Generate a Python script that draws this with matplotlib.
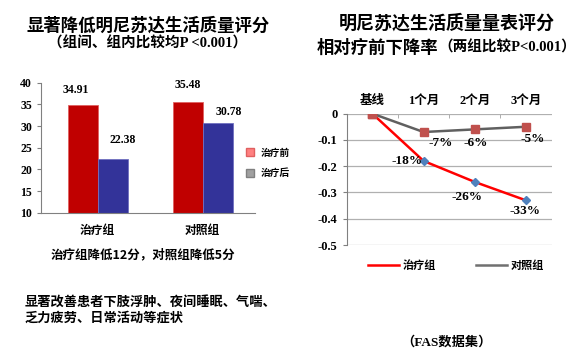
import matplotlib.pyplot as plt
from matplotlib.patches import Patch
from matplotlib.lines import Line2D

plt.rcParams['font.family'] = ['Liberation Serif', 'Noto Sans CJK SC', 'DejaVu Sans']
plt.rcParams['font.weight'] = 'bold'

# left chart data
groups = ["治疗组", "对照组"]
before = [34.91, 35.48]
after = [22.38, 30.78]

# right chart data
months = ["基线", "1个月", "2个月", "3个月"]
treat_rate = [0, -0.18, -0.26, -0.33]
ctrl_rate = [0, -0.07, -0.06, -0.05]
treat_labels = ["", "-18%", "-26%", "-33%"]
ctrl_labels = ["", "-7%", "-6%", "-5%"]

cjk = ['Noto Sans CJK SC', 'DejaVu Sans']
mixed = ['Liberation Serif', 'Noto Sans CJK SC']

fig = plt.figure(figsize=(5.82, 3.6), dpi=100)

# ---- left bar chart
ax1 = fig.add_axes([0.0704, 0.409, 0.368, 0.361])
w = 0.286
x = range(len(groups))
ax1.bar([i - w / 2 for i in x], before, w, color="#C00000", edgecolor="#E06060", linewidth=0.6)
ax1.bar([i + w / 2 for i in x], after, w, color="#333399", edgecolor="#7070C0", linewidth=0.6)
before_off = [(-4.7, 10.8), (0, 12.2)]
after_off = [(7.5, 13.7), (8, 8)]
for i in x:
    ax1.annotate(f"{before[i]:.2f}", (i - w / 2, before[i]), xytext=before_off[i], textcoords="offset points",
                 ha="center", va="center", fontsize=8.5, family=mixed)
    ax1.annotate(f"{after[i]:.2f}", (i + w / 2, after[i]), xytext=after_off[i], textcoords="offset points",
                 ha="center", va="center", fontsize=8.5, family=mixed)
ax1.set_ylim(10, 40)
ax1.set_xlim(-0.54, 1.50)
ax1.set_yticks(range(10, 41, 5))
ax1.set_xticks(list(x))
ax1.set_xticklabels(groups, family=cjk, fontsize=8.5)
ax1.tick_params(axis="x", length=0, pad=8)
ax1.tick_params(axis="y", length=3, labelsize=8.5, color="#808080")
for lab in ax1.get_yticklabels():
    lab.set_family(mixed)
ax1.spines[["top", "right"]].set_visible(False)
ax1.spines["left"].set_color("#808080")
ax1.spines["bottom"].set_color("#808080")

handles = [Patch(facecolor="#FF8080", edgecolor="#E06060"), Patch(facecolor="#A0A0A0", edgecolor="#808080")]
fig.legend(handles, ["治疗前", "治疗后"], loc="upper left", bbox_to_anchor=(0.407, 0.614), frameon=False,
           prop={"family": cjk, "size": 7, "weight": "bold"}, handlelength=0.9, handleheight=0.9,
           labelspacing=1.1, handletextpad=0.6)

# ---- right line chart
ax2 = fig.add_axes([0.5957, 0.3194, 0.352, 0.365])
xs = range(len(months))
ax2.plot(xs, treat_rate, color="#FF0000", linewidth=1.8, marker="D", markersize=4,
         markerfacecolor="#4F81BD", markeredgecolor="#4F81BD", zorder=3)
ax2.plot(xs, ctrl_rate, color="#606060", linewidth=1.8, marker="s", markersize=6,
         markerfacecolor="#C0504D", markeredgecolor="#C0504D", zorder=3)
ax2.plot([0], [0], marker="s", markersize=6, color="#C0504D", zorder=4)
ax2.set_xlim(-0.5, 3.5)
ax2.set_ylim(-0.5, 0)
ax2.set_yticks([0, -0.1, -0.2, -0.3, -0.4, -0.5])
ax2.set_yticklabels(["0", "-0.1", "-0.2", "-0.3", "-0.4", "-0.5"], family=mixed, fontsize=9)
ax2.xaxis.tick_top()
ax2.set_xticks(list(xs))
ax2.set_xticks([0.5, 1.5, 2.5], minor=True)
ax2.set_xticklabels(months, family=mixed, fontsize=9)
ax2.tick_params(axis="x", which="major", length=0, pad=5)
ax2.tick_params(axis="x", which="minor", length=3, direction="in", color="#A0A0A0")
ax2.tick_params(axis="y", length=3, color="#808080")
ax2.grid(axis="y", color="#B0B0B0", linewidth=0.9)
ax2.set_axisbelow(True)
for s in ["top", "right", "bottom"]:
    ax2.spines[s].set_visible(False)
ax2.spines["left"].set_color("#808080")

treat_off = [None, (-1, 0), (-5.5, -10.6), (-0.7, -8)]
for i in range(1, 4):
    ha = "right" if i == 1 else "center"
    ax2.annotate(treat_labels[i], (i, treat_rate[i]), xytext=treat_off[i], textcoords="offset points",
                 ha=ha, va="center", fontsize=9.5, family=mixed)
ctrl_off = [None, (12, -8), (1, -10), (5, -9)]
for i in range(1, 4):
    ax2.annotate(ctrl_labels[i], (i, ctrl_rate[i]), xytext=ctrl_off[i], textcoords="offset points",
                 ha="center", va="center", fontsize=9.5, family=mixed)

lh = [Line2D([], [], color="#FF0000", linewidth=1.8), Line2D([], [], color="#707070", linewidth=1.8)]
fig.legend(lh, ["治疗组", "对照组"], loc="center left", bbox_to_anchor=(0.615, 0.262), ncol=2, frameon=False,
           prop={"family": cjk, "size": 8, "weight": "bold"}, handlelength=2.8, columnspacing=3.6,
           handletextpad=0.3)

# ---- titles and notes
fig.text(0.254, 0.93, "显著降低明尼苏达生活质量评分", ha="center", va="center", fontsize=12.5, family=cjk, weight="bold")
fig.text(0.253, 0.88, "（组间、组内比较均P <0.001）", ha="center", va="center", fontsize=10.5, family=mixed, weight="bold")
fig.text(0.768, 0.935, "明尼苏达生活质量量表评分", ha="center", va="center", fontsize=13, family=cjk, weight="bold")
fig.text(0.545, 0.868, "相对疗前下降率", ha="left", va="center", fontsize=12.5, family=cjk, weight="bold")
fig.text(0.754, 0.868, "（两组比较P<0.001）", ha="left", va="center", fontsize=10.5, family=mixed, weight="bold")
fig.text(0.086, 0.292, "治疗组降低12分，对照组降低5分", ha="left", va="center", fontsize=9, family=cjk, weight="bold")
fig.text(0.043, 0.162, "显著改善患者下肢浮肿、夜间睡眠、气喘、", ha="left", va="center", fontsize=9.5, family=cjk, weight="bold")
fig.text(0.043, 0.117, "乏力疲劳、日常活动等症状", ha="left", va="center", fontsize=9.5, family=cjk, weight="bold")
fig.text(0.69, 0.05, "（FAS数据集）", ha="left", va="center", fontsize=9.5, family=mixed, weight="bold")

fig.savefig("out.png", dpi=100)
